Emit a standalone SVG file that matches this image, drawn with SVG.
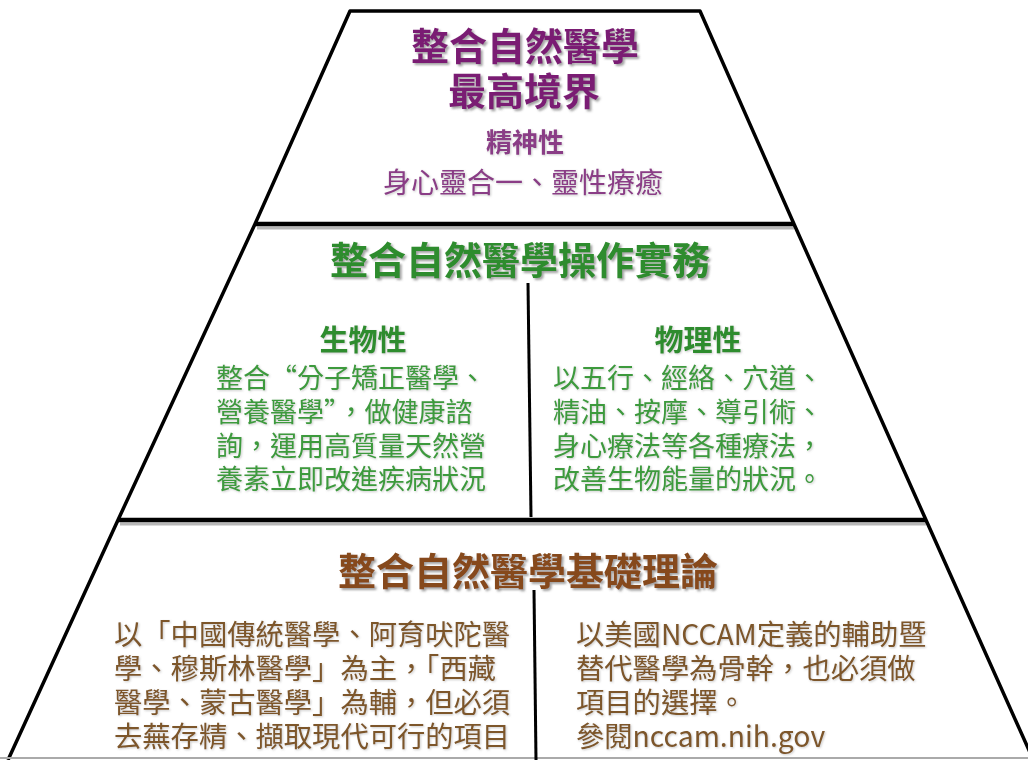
<svg xmlns="http://www.w3.org/2000/svg" width="1028" height="760" viewBox="0 0 1028 760">
<defs>
<filter id="sh" x="-10%" y="-30%" width="120%" height="160%">
<feDropShadow dx="2" dy="2" stdDeviation="1.2" flood-color="#555" flood-opacity="0.55"/>
</filter>
<filter id="shl" x="-10%" y="-30%" width="120%" height="160%">
<feDropShadow dx="1" dy="1" stdDeviation="0.8" flood-color="#777" flood-opacity="0.4"/>
</filter>
</defs>
<style>
text{font-family:"Noto Sans CJK TC","Noto Sans CJK SC",sans-serif;dominant-baseline:central}
.c{text-anchor:middle}
.t{font-size:38px;font-weight:bold;filter:url(#sh)}
.edge{fill:none;stroke:#000;stroke-width:3.5;stroke-linejoin:round}
.hl{stroke:#000;stroke-width:4.5}
.hs{stroke:#999;stroke-width:3;opacity:0.7}
.dv{stroke:#000;stroke-width:3}
.pu{fill:#7a1f73}
.pu2{fill:#8a3d86}
.gr{fill:#2e8c2e}
.gr2{fill:#3d9a3d}
.br{fill:#86481a}
.br2{fill:#7d5629}
.b{font-size:27px;filter:url(#shl)}
.b2{font-size:28.3px;filter:url(#shl)}
</style>
<rect width="1028" height="760" fill="#fff"/>
<g id="frame">
<line class="hs" x1="257" y1="228" x2="794" y2="228"/>
<line class="hs" x1="120" y1="524" x2="926" y2="524"/>
<polyline class="edge" points="8,760 118,520 255,224 350,11 700,11 794,224 926,520 1032,757"/>
<line class="hl" x1="255" y1="224" x2="794" y2="224"/>
<line class="hl" x1="118" y1="520" x2="926" y2="520"/>
<line x1="0" y1="758" x2="1028" y2="758" stroke="#aaa" stroke-width="2"/>
</g>
<g id="connectors">
<line class="dv" x1="528" y1="283" x2="531" y2="517"/>
<line class="dv" x1="534" y1="590" x2="536" y2="760"/>
</g>
<g id="top">
<text class="c t pu" x="525" y="43">整合自然醫學</text>
<text class="c t pu" x="524" y="88">最高境界</text>
<text class="c pu2" x="525" y="140" font-size="26" font-weight="bold" filter="url(#shl)">精神性</text>
<text class="c pu2" x="523" y="181" font-size="28" filter="url(#shl)">身心靈合一、靈性療癒</text>
</g>
<g id="practice">
<text class="c t gr" x="520" y="257">整合自然醫學操作實務</text>
</g>
<g id="bio">
<text class="c gr" x="363" y="338" font-size="29" font-weight="bold" filter="url(#shl)">生物性</text>
<text class="b gr2" x="216" y="376">整合“分子矯正醫學、</text>
<text class="b gr2" x="216" y="410">營養醫學”，做健康諮</text>
<text class="b gr2" x="216" y="444">詢，運用高質量天然營</text>
<text class="b gr2" x="216" y="477">養素立即改進疾病狀況</text>
</g>
<g id="phys">
<text class="c gr" x="698" y="338" font-size="29" font-weight="bold" filter="url(#shl)">物理性</text>
<text class="b gr2" x="553" y="376">以五行、經絡、穴道、</text>
<text class="b gr2" x="553" y="410">精油、按摩、導引術、</text>
<text class="b gr2" x="553" y="444">身心療法等各種療法，</text>
<text class="b gr2" x="553" y="477">改善生物能量的狀況。</text>
</g>
<g id="theory">
<text class="c t br" x="528" y="568">整合自然醫學基礎理論</text>
</g>
<g id="trad">
<text class="b2 br2" x="114" y="632">以「中國傳統醫學、阿育吠陀醫</text>
<text class="b2 br2" x="114" y="666">學、穆斯林醫學」為主，「西藏</text>
<text class="b2 br2" x="114" y="700">醫學、蒙古醫學」為輔，但必須</text>
<text class="b2 br2" x="114" y="734">去蕪存精、擷取現代可行的項目</text>
</g>
<g id="nccam">
<text class="b2 br2" x="576" y="632">以美國NCCAM定義的輔助暨</text>
<text class="b2 br2" x="576" y="666">替代醫學為骨幹，也必須做</text>
<text class="b2 br2" x="576" y="700">項目的選擇。</text>
<text class="b2 br2" x="576" y="734">參閱nccam.nih.gov</text>
</g>
</svg>
